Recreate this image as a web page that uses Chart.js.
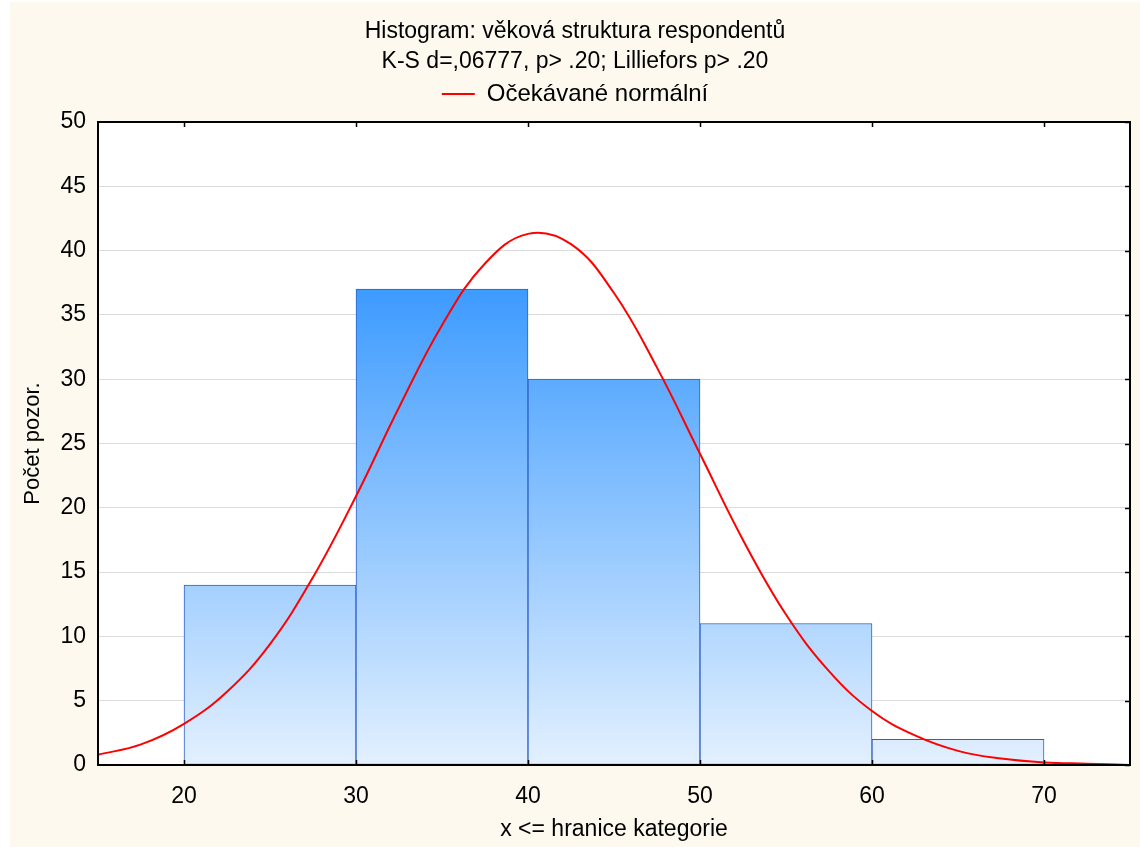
<!DOCTYPE html>
<html>
<head>
<meta charset="utf-8">
<script src="https://cdn.jsdelivr.net/npm/chart.js@4/dist/chart.umd.min.js"></script>
<style>
  html, body { margin: 0; padding: 0; background: #fff; }
</style>
</head>
<body>
<canvas id="hist" width="1140" height="847"></canvas>
<script>
// histogram bins (centre of each 10-year class) and counts
const binCenters = [25, 35, 45, 55, 65];
const binCounts = [14, 37, 30, 11, 2];

// expected normal curve
const curveX = [15, 17.5, 20, 22.5, 25, 27.5, 30, 32.5, 35, 37.5, 40, 42.5, 45,
  47.5, 50, 52.5, 55, 57.5, 60, 62.5, 65, 67.5, 70, 72.5, 75];
const curveY = [0.8, 1.6, 3.2, 5.7, 9.4, 14.6, 20.9, 27.8, 34.2, 39.0, 41.3, 40.5, 36.7,
  30.9, 24.2, 17.5, 11.7, 7.3, 4.2, 2.3, 1.1, 0.5, 0.2, 0.1, 0.0];

const xTicks = [20, 30, 40, 50, 60, 70];
const yTicks = [0, 5, 10, 15, 20, 25, 30, 35, 40, 45, 50];

const titleLines = [
  "Histogram: věková struktura respondentů",
  "K-S d=,06777, p> .20; Lilliefors p> .20"
];

const FONT = "'Liberation Sans', Arial, sans-serif";

// cream page, white plot area, black frame and little inward ticks
const frame = {
  id: "frame",
  beforeDraw(chart) {
    const { ctx, chartArea: a } = chart;
    ctx.save();
    ctx.fillStyle = "#ffffff";
    ctx.fillRect(0, 0, chart.width, chart.height);
    ctx.fillStyle = "#fdf9ef";
    ctx.fillRect(10, 2, chart.width - 10, chart.height - 2);
    ctx.fillStyle = "#ffffff";
    ctx.fillRect(a.left, a.top, a.width, a.height);
    ctx.restore();
  },
  afterDraw(chart) {
    const { ctx, chartArea: a, scales } = chart;
    ctx.save();
    ctx.strokeStyle = "#000";
    ctx.lineWidth = 1.5;
    ctx.beginPath();
    xTicks.forEach((v) => {
      const px = Math.round(scales.x.getPixelForValue(v)) + 0.5;
      ctx.moveTo(px, a.bottom);
      ctx.lineTo(px, a.bottom - 5);
      ctx.moveTo(px, a.top);
      ctx.lineTo(px, a.top + 5);
    });
    yTicks.forEach((v) => {
      const py = Math.round(scales.y.getPixelForValue(v)) + 0.5;
      ctx.moveTo(a.right, py);
      ctx.lineTo(a.right - 5, py);
    });
    ctx.stroke();
    ctx.lineWidth = 2;
    ctx.strokeRect(a.left, a.top, a.width, a.height);
    ctx.restore();
  },
};

const barFill = (context) => {
  const { chart } = context;
  const { ctx, chartArea, scales } = chart;
  if (!chartArea) return "#8ec4fd";
  const top = scales.y.getPixelForValue(Math.max(...binCounts));
  const g = ctx.createLinearGradient(0, top, 0, chartArea.bottom);
  g.addColorStop(0, "#3d9bff");
  g.addColorStop(1, "#e3f0fe");
  return g;
};

Chart.defaults.font.family = FONT;
Chart.defaults.color = "#000";

new Chart(document.getElementById("hist"), {
  data: {
    datasets: [
      {
        type: "line",
        label: "Očekávané normální",
        data: curveX.map((x, i) => ({ x, y: curveY[i] })),
        borderColor: "#ff0000",
        borderWidth: 2,
        pointRadius: 0,
        tension: 0.4,
        order: 0,
      },
      {
        type: "bar",
        label: "Počet",
        data: binCenters.map((x, i) => ({ x, y: binCounts[i] })),
        backgroundColor: barFill,
        borderColor: "#2c5fca",
        borderWidth: 1,
        borderSkipped: false,
        categoryPercentage: 1,
        barPercentage: 1,
        grouped: false,
        order: 1,
      },
    ],
  },
  options: {
    responsive: false,
    animation: false,
    layout: { padding: { top: 0, right: 10, bottom: 0, left: 20 } },
    plugins: {
      tooltip: { enabled: false },
      title: {
        display: true,
        text: titleLines,
        font: { size: 23, weight: "normal", lineHeight: "30px" },
        padding: { top: 17, bottom: 0 },
      },
      legend: {
        display: true,
        labels: {
          font: { size: 24 },
          usePointStyle: true,
          pointStyle: "line",
          pointStyleWidth: 33,
          padding: 5,
          filter: (item) => item.datasetIndex === 0,
        },
      },
    },
    scales: {
      x: {
        type: "linear",
        position: "bottom",
        min: 15,
        max: 75,
        offset: false,
        afterBuildTicks: (s) => { s.ticks = xTicks.map((v) => ({ value: v })); },
        afterFit: (s) => { s.height = 82; },
        ticks: { font: { size: 23 }, padding: 18 },
        grid: { display: false, drawTicks: false, offset: false },
        border: { display: false },
        title: {
          display: true,
          text: "x <= hranice kategorie",
          font: { size: 23 },
          padding: { top: 0, bottom: 4 },
        },
      },
      xTop: {
        type: "linear",
        position: "top",
        min: 15,
        max: 75,
        afterFit: (s) => { s.height = 6; },
        ticks: { display: false },
        grid: { display: false, drawTicks: false },
        border: { display: false },
      },
      y: {
        type: "linear",
        min: 0,
        max: 50,
        afterBuildTicks: (s) => { s.ticks = yTicks.map((v) => ({ value: v })); },
        afterFit: (s) => { s.width = 78; },
        ticks: { font: { size: 23 }, padding: 12 },
        grid: { color: "#dcdcdc", lineWidth: 1, drawTicks: false },
        border: { display: false },
        title: {
          display: true,
          text: "Počet pozor.",
          font: { size: 22 },
          padding: { top: 0, bottom: 0 },
        },
      },
    },
  },
  plugins: [frame],
});
</script>
</body>
</html>
